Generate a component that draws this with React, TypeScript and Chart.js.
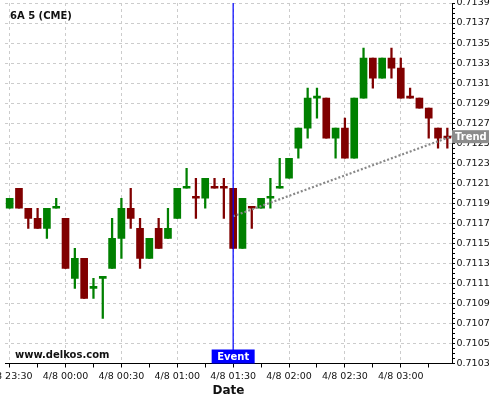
import React, { useEffect, useRef } from 'react';
import { Chart, registerables } from 'chart.js';

Chart.register(...registerables);

const datePrefix = '4/8 ';
const times = [
  '23:30', '23:35', '23:40', '23:45', '23:50', '23:55',
  '00:00', '00:05', '00:10', '00:15', '00:20', '00:25',
  '00:30', '00:35', '00:40', '00:45', '00:50', '00:55',
  '01:00', '01:05', '01:10', '01:15', '01:20', '01:25',
  '01:30', '01:35', '01:40', '01:45', '01:50', '01:55',
  '02:00', '02:05', '02:10', '02:15', '02:20', '02:25',
  '02:30', '02:35', '02:40', '02:45', '02:50', '02:55',
  '03:00', '03:05', '03:10', '03:15', '03:20', '03:25',
];

const open = [
  0.71185, 0.71205, 0.71185, 0.71175, 0.71165, 0.71185,
  0.71175, 0.71115, 0.71135, 0.71105, 0.71115, 0.71125,
  0.71155, 0.71185, 0.71165, 0.71135, 0.71165, 0.71155,
  0.71175, 0.71205, 0.71195, 0.71195, 0.71205, 0.71205,
  0.71205, 0.71145, 0.71185, 0.71185, 0.71195, 0.71205,
  0.71215, 0.71245, 0.71265, 0.71295, 0.71295, 0.71255,
  0.71265, 0.71235, 0.71295, 0.71335, 0.71315, 0.71335,
  0.71325, 0.71295, 0.71295, 0.71285, 0.71265, 0.71255,
];
const high = [
  0.71195, 0.71205, 0.71185, 0.71185, 0.71185, 0.71195,
  0.71175, 0.71145, 0.71135, 0.71115, 0.71115, 0.71175,
  0.71195, 0.71205, 0.71175, 0.71155, 0.71175, 0.71185,
  0.71205, 0.71225, 0.71215, 0.71215, 0.71215, 0.71215,
  0.71205, 0.71195, 0.71185, 0.71195, 0.71215, 0.71235,
  0.71235, 0.71265, 0.71305, 0.71305, 0.71295, 0.71265,
  0.71275, 0.71295, 0.71345, 0.71335, 0.71335, 0.71345,
  0.71335, 0.71305, 0.71295, 0.71285, 0.71265, 0.71265,
];
const low = [
  0.71185, 0.71185, 0.71165, 0.71165, 0.71155, 0.71185,
  0.71125, 0.71105, 0.71095, 0.71095, 0.71075, 0.71125,
  0.71135, 0.71165, 0.71125, 0.71135, 0.71145, 0.71155,
  0.71175, 0.71205, 0.71175, 0.71185, 0.71205, 0.71175,
  0.71145, 0.71145, 0.71165, 0.71185, 0.71185, 0.71205,
  0.71215, 0.71235, 0.71255, 0.71275, 0.71255, 0.71235,
  0.71235, 0.71235, 0.71295, 0.71305, 0.71315, 0.71315,
  0.71295, 0.71295, 0.71285, 0.71255, 0.71245, 0.71245,
];
const close = [
  0.71195, 0.71185, 0.71175, 0.71165, 0.71185, 0.71185,
  0.71125, 0.71135, 0.71095, 0.71105, 0.71115, 0.71155,
  0.71185, 0.71175, 0.71135, 0.71155, 0.71145, 0.71165,
  0.71205, 0.71205, 0.71195, 0.71215, 0.71205, 0.71205,
  0.71145, 0.71195, 0.71185, 0.71195, 0.71195, 0.71205,
  0.71235, 0.71265, 0.71295, 0.71295, 0.71255, 0.71265,
  0.71235, 0.71295, 0.71335, 0.71315, 0.71335, 0.71325,
  0.71295, 0.71295, 0.71285, 0.71275, 0.71255, 0.71255,
];
// U = up candle (green), D = down candle (red)
const direction = [
  'U', 'D', 'D', 'D', 'U', 'U',
  'D', 'U', 'D', 'U', 'U', 'U',
  'U', 'D', 'D', 'U', 'D', 'U',
  'U', 'U', 'D', 'U', 'D', 'D',
  'D', 'U', 'D', 'U', 'U', 'U',
  'U', 'U', 'U', 'U', 'D', 'U',
  'D', 'U', 'U', 'D', 'U', 'D',
  'D', 'D', 'D', 'D', 'D', 'D',
];

const yMin = 0.7103;
const yMax = 0.7139;
const eventIndex = 24;
const trendStart = { x: 24, y: 0.71177 };
const trendEnd = { x: 47.5, y: 0.71257 };
const titleText = '6A 5 (CME)';
const watermark = 'www.delkos.com';

const UP = '#008000';
const DOWN = '#800000';

const overlayPlugin = {
  id: 'overlay',
  afterDraw(chart: any) {
    const ctx = chart.ctx;
    const area = chart.chartArea;
    const xs = chart.scales.x;
    const ys = chart.scales.y;
    ctx.save();
    ctx.textBaseline = 'alphabetic';
    ctx.textAlign = 'left';
    ctx.fillStyle = '#111';
    ctx.font = 'bold 10px "DejaVu Sans"';
    ctx.fillText(titleText, 10, 19);
    ctx.fillText(watermark, 15, 357.5);

    // Event box
    const ex = xs.getPixelForValue(eventIndex);
    const ew = 43;
    const eh = 14;
    ctx.fillStyle = '#0000ff';
    ctx.fillRect(ex - ew / 2, area.bottom - eh, ew, eh);
    ctx.fillStyle = '#ffffff';
    ctx.textAlign = 'center';
    ctx.fillText('Event', ex, area.bottom - 3.5);

    // Trend box
    const ty = ys.getPixelForValue(trendEnd.y);
    ctx.fillStyle = '#8c8c8c';
    ctx.fillRect(area.right, ty - 6, 37, 13);
    ctx.fillStyle = '#ffffff';
    ctx.textAlign = 'left';
    ctx.fillText('Trend', area.right + 3, ty + 4);
    ctx.restore();
  },
};

export default function App() {
  const ref = useRef<HTMLCanvasElement>(null);
  useEffect(() => {
    if (!ref.current) return;
    const colors = direction.map((d) => (d === 'U' ? UP : DOWN));
    const chart = new Chart(ref.current, {
      type: 'bar',
      data: {
        labels: times,
        datasets: [
          {
            type: 'bar',
            label: 'wick',
            data: low.map((l, i) => [l, high[i]]) as any,
            backgroundColor: colors,
            barThickness: 1.6,
            grouped: false,
            order: 3,
          } as any,
          {
            type: 'bar',
            label: 'body',
            data: open.map((o, i) => [o, close[i]]) as any,
            backgroundColor: colors,
            barThickness: 7,
            minBarLength: 2,
            grouped: false,
            order: 2,
          } as any,
          {
            type: 'line',
            label: 'trend',
            xAxisID: 'x2',
            data: [trendStart, trendEnd],
            borderColor: '#888888',
            borderWidth: 2.2,
            borderDash: [2, 2],
            pointRadius: 0,
            clip: false,
            order: 1,
          } as any,
          {
            type: 'line',
            label: 'event',
            xAxisID: 'x2',
            data: [
              { x: eventIndex, y: yMin },
              { x: eventIndex, y: yMax },
            ],
            borderColor: '#0000ff',
            borderWidth: 1.2,
            pointRadius: 0,
            order: 0,
          } as any,
        ],
      },
      options: {
        animation: false,
        responsive: false,
        layout: { padding: { top: 3, left: 5, right: 0, bottom: 0 } },
        plugins: {
          legend: { display: false },
          tooltip: { enabled: false },
        },
        scales: {
          x: {
            type: 'category',
            offset: true,
            grid: {
              offset: false,
              color: (c: any) => (c.index % 6 === 0 ? '#cccccc' : 'rgba(0,0,0,0)'),
              tickColor: (c: any) => (c.index % 3 === 0 ? '#000000' : 'rgba(0,0,0,0)'),
              tickLength: 4,
            },
            border: { display: true, color: '#000000', width: 1, dash: [3, 3] },
            ticks: {
              autoSkip: false,
              maxRotation: 0,
              minRotation: 0,
              padding: 3,
              color: '#111',
              font: { family: 'DejaVu Sans', size: 9.5 },
              callback: (v: any, i: number) => (i % 6 === 0 ? datePrefix + times[i] : ''),
            },
            title: {
              display: true,
              text: 'Date',
              color: '#111',
              font: { family: 'DejaVu Sans', size: 12, weight: 'bold' },
              padding: { top: 0, bottom: 2 },
            },
            afterFit: (s: any) => {
              s.height = 36.5;
              s.paddingLeft = 0;
              s.paddingRight = 0;
            },
          } as any,
          x2: {
            type: 'linear',
            display: false,
            offset: false,
            min: -0.5,
            max: 47.5,
            grid: { display: false, offset: false },
          } as any,
          y: {
            type: 'linear',
            position: 'right',
            min: yMin,
            max: yMax,
            grid: {
              color: (c: any) => (c.index % 4 === 0 ? '#cccccc' : 'rgba(0,0,0,0)'),
              tickColor: '#000000',
              tickLength: 3,
            },
            border: { display: true, color: '#000000', width: 1, dash: [3, 3] },
            ticks: {
              stepSize: 0.00005,
              autoSkip: false,
              padding: 1.5,
              color: '#111',
              font: { family: 'DejaVu Sans', size: 9.5 },
              callback: (v: any, i: number) => (i % 4 === 0 ? Number(v).toFixed(4) : ''),
            },
            afterFit: (s: any) => {
              s.width = 48;
              s.paddingTop = 0;
              s.paddingBottom = 0;
            },
          } as any,
        },
      },
      plugins: [overlayPlugin],
    });
    return () => chart.destroy();
  }, []);
  return (
    <canvas
      ref={ref}
      width={500}
      height={400}
      style={{ position: 'absolute', left: 0, top: 0, background: '#fff' }}
    />
  );
}
